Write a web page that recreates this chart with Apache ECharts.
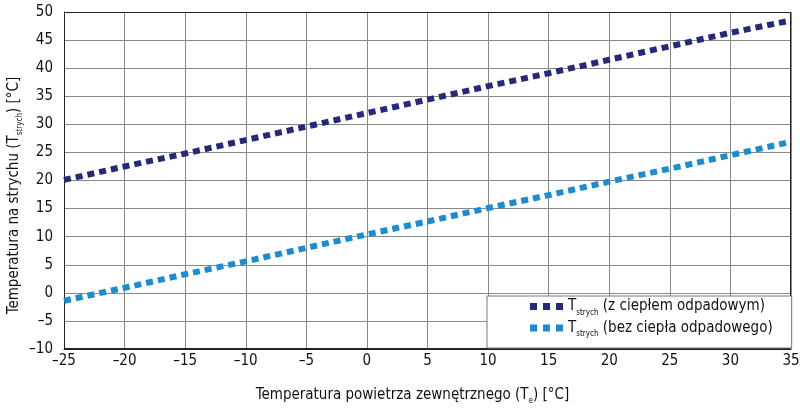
<!DOCTYPE html>
<html>
<head>
<meta charset="utf-8">
<script src="https://cdn.jsdelivr.net/npm/echarts@6/dist/echarts.min.js"></script>
<style>
  html, body { margin: 0; padding: 0; background: #fff; }
  #chart { width: 800px; height: 409px; }
</style>
</head>
<body>
<div id="chart"></div>
<script>
// dane
const outsideTemp = [-25, -20, -15, -10, -5, 0, 5, 10, 15, 20, 25, 30, 35]
const atticWithHeat = [20.1, 22.5, 24.8, 27.2, 29.6, 32.0, 34.4, 36.8, 39.1, 41.5, 43.9, 46.3, 48.5]
const atticNoHeat = [-1.4, 0.9, 3.3, 5.6, 8.0, 10.4, 12.7, 15.1, 17.4, 19.8, 22.1, 24.5, 26.9]
const seriesNames = ['z ciepłem odpadowym', 'bez ciepła odpadowego']

const font = '"DejaVu Sans Condensed", "Liberation Sans Narrow", sans-serif'
const minus = v => String(v).replace('-', '\u2013')

const sub = {
  t: { fontFamily: font, fontSize: 15, color: '#111', verticalAlign: 'middle', lineHeight: 20 },
  s: { fontFamily: font, fontSize: 8, color: '#111', verticalAlign: 'bottom', lineHeight: 20 }
}

const chart = echarts.init(document.getElementById('chart'))
const option = {
  animation: false,
  grid: { left: 64, right: 9, top: 12, bottom: 60, outerBoundsMode: 'none' },
  legend: {
    orient: 'vertical',
    left: 487,
    top: 296,
    padding: [3, 19, 10, 43],
    itemGap: 4,
    itemWidth: 33,
    itemHeight: 7,
    backgroundColor: '#fff',
    borderColor: '#777',
    borderWidth: 1,
    icon: 'path://M0,0h7v7h-7z M13,0h7v7h-7z M26,0h7v7h-7z',
    formatter: name => '{t|T}{s|strych}{t| (' + name + ')}',
    textStyle: { fontFamily: font, fontSize: 15, color: '#111', rich: sub }
  },
  xAxis: {
    type: 'value',
    min: -25,
    max: 35,
    interval: 5,
    name: '{t|Temperatura powietrza zewnętrznego (T}{s|e}{t|) [°C]}',
    nameLocation: 'middle',
    nameGap: 36,
    nameMoveOverlap: false,
    nameTextStyle: { rich: sub, padding: [0, 30, 0, 0] },
    axisLine: { onZero: false, lineStyle: { color: '#222', width: 1 } },
    axisTick: { show: false },
    axisLabel: { margin: 5, fontFamily: font, fontSize: 15, color: '#111', formatter: minus },
    splitLine: { show: true, lineStyle: { color: '#888', width: 1 } }
  },
  yAxis: {
    type: 'value',
    min: -10,
    max: 50,
    interval: 5,
    name: '{t|Temperatura na strychu (T}{s|strych}{t|) [°C]}',
    nameLocation: 'middle',
    nameGap: 40,
    nameMoveOverlap: false,
    nameTextStyle: { rich: sub, padding: [0, 30, 0, 0] },
    axisLine: { show: true, onZero: false, lineStyle: { color: '#222', width: 1 } },
    axisTick: { show: false },
    axisLabel: { margin: 11, fontFamily: font, fontSize: 15, color: '#111', formatter: minus },
    splitLine: { show: true, lineStyle: { color: '#888', width: 1 } }
  },
  series: [
    {
      name: seriesNames[0],
      type: 'line',
      symbol: 'none',
      color: '#28287a',
      lineStyle: { width: 6, type: [7, 5], cap: 'butt' },
      data: outsideTemp.map((x, i) => [x, atticWithHeat[i]])
    },
    {
      name: seriesNames[1],
      type: 'line',
      symbol: 'none',
      color: '#1a8cd0',
      lineStyle: { width: 6, type: [7, 5], cap: 'butt' },
      data: outsideTemp.map((x, i) => [x, atticNoHeat[i]])
    }
  ],
  graphic: [
    // górna i prawa krawędź ramki wykresu
    {
      type: 'rect',
      shape: { x: 64.5, y: 12.5, width: 726, height: 336 },
      style: { fill: 'none', stroke: '#222', lineWidth: 1 },
      silent: true,
      z: 1
    }
  ]
}
chart.setOption(option)
</script>
</body>
</html>
